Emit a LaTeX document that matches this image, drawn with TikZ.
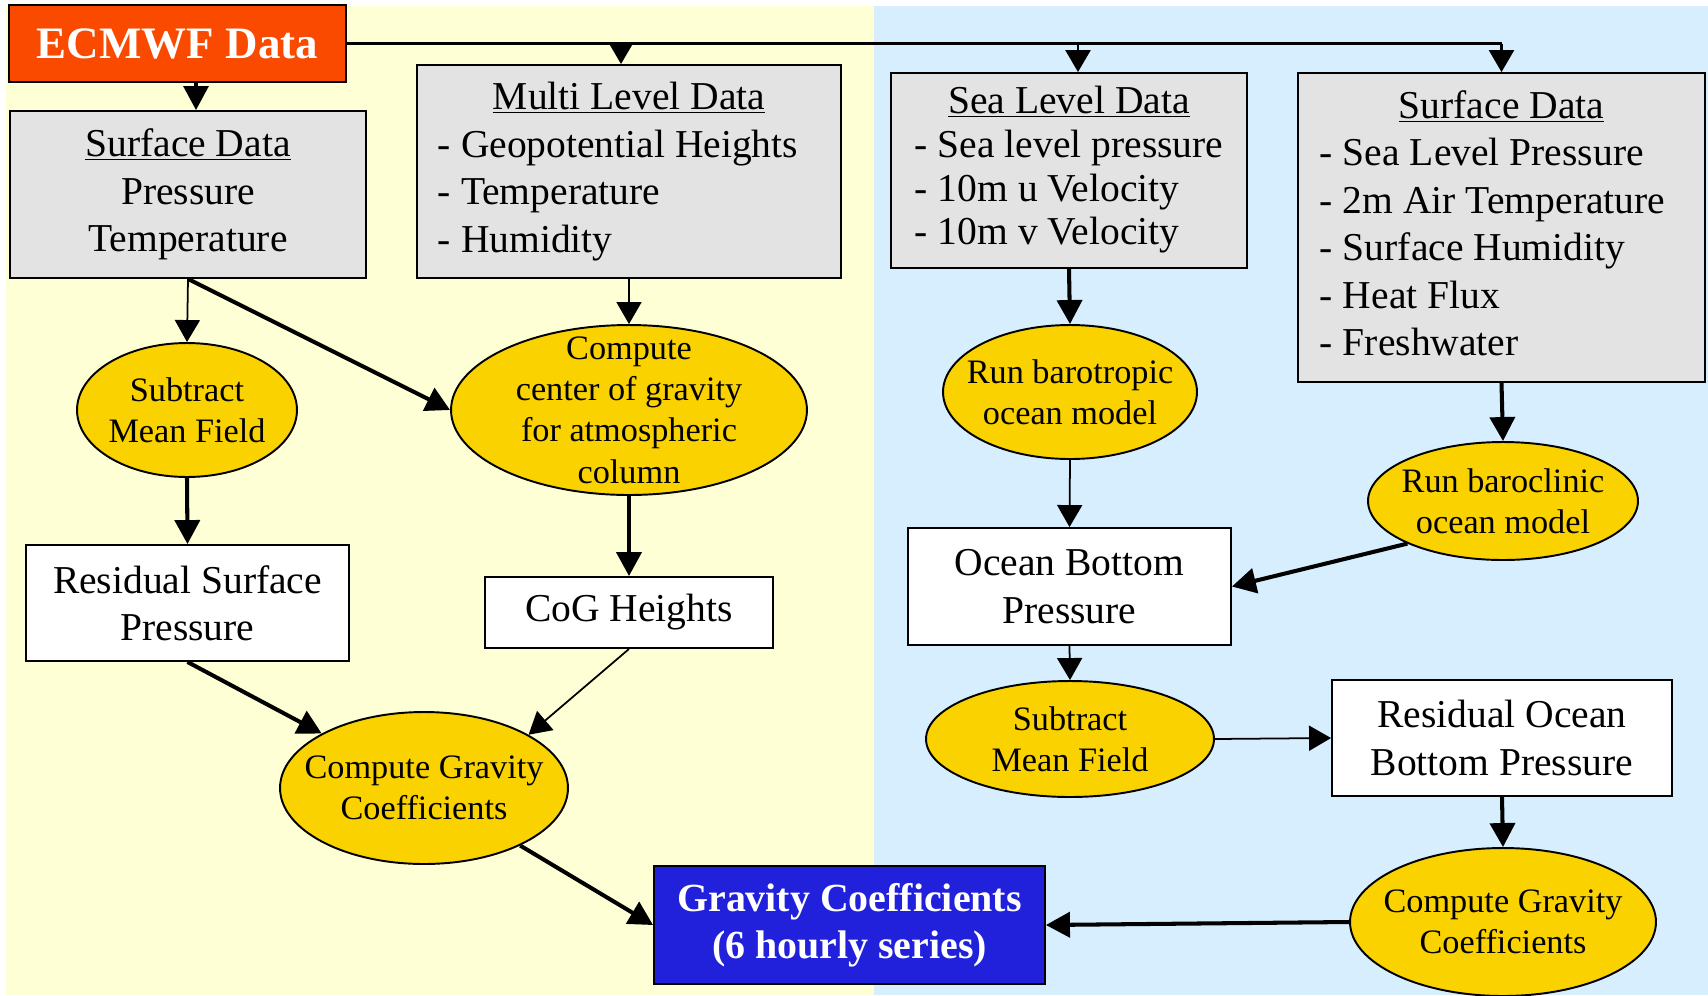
\documentclass[tikz,border=0pt]{standalone}
\usepackage{fontspec}
\setmainfont{Liberation Serif}
\usetikzlibrary{arrows.meta,shapes.geometric,calc}
\definecolor{atmoyellow}{RGB}{255,255,213}
\definecolor{oceanblue}{RGB}{214,238,254}
\definecolor{datagrey}{RGB}{227,227,227}
\definecolor{ecmwforange}{RGB}{249,74,0}
\definecolor{resultblue}{RGB}{33,33,220}
\definecolor{procgold}{RGB}{249,210,0}
\tikzset{
    databox/.style={draw, line width=1.1pt, fill=datagrey, align=center,
        font=\fontsize{22.5}{27}\selectfont, inner sep=0pt},
    flowarrow/.style={-{Triangle[length=0.48cm, width=0.5cm]}, line width=2.3pt},
    thinarrow/.style={-{Triangle[length=0.44cm, width=0.5cm]}, line width=1pt}
}

\begin{document}
\begin{tikzpicture}[
    x=0.02cm, y=-0.02cm,
    procell/.style={ellipse, draw, line width=1.1pt, fill=procgold, align=center,
        font=\fontsize{19.5}{23.5}\selectfont, inner sep=-0.6cm},
    resbox/.style={draw, line width=1.1pt, fill=white, align=center,
        font=\fontsize{22.5}{27}\selectfont, inner sep=0pt}
]
\useasboundingbox (0,0) rectangle (1708,995);
\fill[atmoyellow] (6,6) rectangle (874,995);
\fill[oceanblue] (874,6) rectangle (1708,995);

\node[draw, line width=1.1pt, fill=ecmwforange, text=white, font=\fontsize{25.6}{30}\selectfont\bfseries,
    minimum width=6.74cm, minimum height=1.54cm] (ecmwf) at (177.5,43.5) {ECMWF Data};
\node[databox, minimum width=7.12cm, minimum height=3.34cm] (surfL) at (188,194.5)
    {\underline{Surface Data}\\Pressure\\Temperature};
\node[databox, minimum width=8.48cm, minimum height=4.26cm] (multi) at (629,171.5)
    {\begin{tabular}{@{}l@{\hspace{0.44cm}}}\multicolumn{1}{@{}c@{}}{\underline{Multi Level Data}}\\- Geopotential Heights\\- Temperature\\- Humidity\end{tabular}};
\node[databox, font=\fontsize{22.5}{24.8}\selectfont, minimum width=7.12cm, minimum height=3.9cm] (sea) at (1069,170.5)
    {\begin{tabular}{@{}l@{}}\multicolumn{1}{@{}c@{}}{\underline{Sea Level Data}}\\- Sea level pressure\\- 10m u Velocity\\- 10m v Velocity\end{tabular}};
\node[databox, minimum width=8.14cm, minimum height=6.18cm] (surfR) at (1501.5,227.5)
    {\begin{tabular}{@{}l@{\hspace{0.36cm}}}\multicolumn{1}{@{}c@{}}{\underline{Surface Data}}\\- Sea Level Pressure\\- 2m Air Temperature\\- Surface Humidity\\- Heat Flux\\- Freshwater\end{tabular}};

\node[procell, minimum width=4.4cm, minimum height=2.68cm] (subL) at (187,410) {Subtract\\Mean Field};
\node[procell, minimum width=7.12cm, minimum height=3.4cm] (cog) at (629,410)
    {Compute\\center of gravity\\for atmospheric\\column};
\node[procell, minimum width=5.08cm, minimum height=2.68cm] (baro) at (1070,392) {Run barotropic\\ocean model};
\node[procell, minimum width=5.4cm, minimum height=2.36cm] (bcl) at (1503,501) {Run baroclinic\\ocean model};

\node[resbox, minimum width=6.46cm, minimum height=2.32cm] (resS) at (187.5,603) {Residual Surface\\Pressure};
\node[resbox, minimum width=5.76cm, minimum height=1.42cm] (cogh) at (629,612.5) {CoG Heights};
\node[resbox, minimum width=6.46cm, minimum height=2.34cm] (obp) at (1069.5,586.5) {Ocean Bottom\\Pressure};
\node[procell, minimum width=5.76cm, minimum height=2.32cm] (subR) at (1070,739) {Subtract\\Mean Field};
\node[resbox, minimum width=6.8cm, minimum height=2.32cm] (resO) at (1502,738) {Residual Ocean\\Bottom Pressure};

\node[procell, minimum width=5.76cm, minimum height=3.04cm] (cgL) at (424,788) {Compute Gravity\\Coefficients};
\node[draw, line width=1.1pt, fill=resultblue, text=white, align=center,
    font=\fontsize{22.7}{27}\selectfont\bfseries,
    minimum width=7.82cm, minimum height=2.36cm] (gc) at (849.5,925) {Gravity Coefficients\\(6 hourly series)};
\node[procell, minimum width=6.12cm, minimum height=2.96cm] (cgR) at (1503,922) {Compute Gravity\\Coefficients};

\draw[line width=1.4pt] (ecmwf.east) -- (ecmwf.east -| surfR.north);
\draw[thinarrow, line width=1.4pt] ([xshift=-0.16cm]ecmwf.east -| multi.north) -- ([xshift=-0.16cm]multi.north);
\draw[thinarrow, line width=1.4pt] ([xshift=0.18cm]ecmwf.east -| sea.north) -- ([xshift=0.18cm]sea.north);
\draw[thinarrow, line width=1.4pt] (ecmwf.east -| surfR.north) -- (surfR.north);
\draw[flowarrow, line width=1.8pt] ([xshift=0.16cm]surfL.north |- ecmwf.south) -- ([xshift=0.16cm]surfL.north);

\draw[thinarrow] (surfL.south) -- (subL.north);
\draw[flowarrow] (surfL.south) -- (cog.west);
\draw[thinarrow] (multi.south) -- (cog.north);
\draw[flowarrow] (subL.south) -- (resS.north);
\draw[flowarrow] (cog.south) -- (cogh.north);
\draw[flowarrow] (resS.south) -- (cgL);
\draw[thinarrow] (cogh.south) -- (cgL.27);
\draw[flowarrow] (cgL) -- (gc.west);

\draw[flowarrow] (sea.south) -- (baro.north);
\draw[thinarrow] (baro.south) -- (obp.north);
\draw[flowarrow] (surfR.south) -- (bcl.north);
\draw[flowarrow] (bcl.204) -- (obp.east);
\draw[thinarrow] (obp.south) -- (subR.north);
\draw[thinarrow] (subR.east) -- (resO.west);
\draw[flowarrow] (resO.south) -- (cgR.north);
\draw[flowarrow] (cgR.west) -- (gc.east);
\end{tikzpicture}
\end{document}
